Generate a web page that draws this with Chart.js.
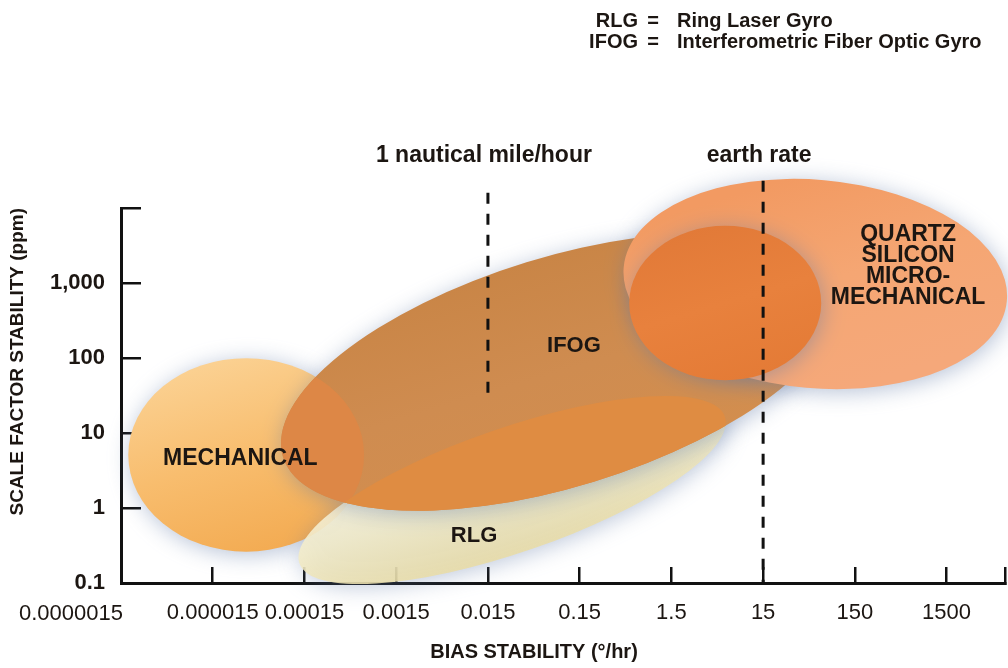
<!DOCTYPE html>
<html>
<head>
<meta charset="utf-8">
<script src="https://cdn.jsdelivr.net/npm/chart.js@4.4.0/dist/chart.umd.min.js"></script>
<style>
body { margin: 0; background: #fff; }
#wrap { width: 1008px; height: 668px; }
</style>
</head>
<body>
<div id="wrap"><canvas id="myChart"></canvas></div>
<script>
// axis ticks
const xTicks = [0.0000015, 0.000015, 0.00015, 0.0015, 0.015, 0.15, 1.5, 15, 150, 1500, 6500];
const xTickLabels = ['', '0.000015', '0.00015', '0.0015', '0.015', '0.15', '1.5', '15', '150', '1500', ''];
const yTicks = [0.1, 1, 10, 100, 1000, 10000];
const yTickLabels = ['0.1', '1', '10', '100', '1,000', ''];

// gyro regions: long axis from (biasFrom, scaleFrom) to (biasTo, scaleTo), half width in decades of scale factor
const regionNames = ['MECHANICAL', 'RLG', 'IFOG', 'QUARTZ OUTER', 'QUARTZ INNER'];
const regionBiasFrom = [0.0000018, 0.000132, 0.0000876, 0.453, 0.52];
const regionScaleFrom = [5.1, 0.183, 4.79, 1619, 541];
const regionBiasTo = [0.00067, 5.74, 96.4, 6810, 64.5];
const regionScaleTo = [5.1, 16.5, 885, 581, 541];
const regionHalfWidth = [1.29, 0.83, 1.53, 1.39, 1.03];

// region labels
const labelLines = [['MECHANICAL'], ['RLG'], ['IFOG'], ['QUARTZ', 'SILICON', 'MICRO-', 'MECHANICAL']];
const labelBias = [0.00003, 0.0106, 0.13, 570];
const labelScale = [4.6, 0.42, 145, 1660];

// reference lines
const refNames = ['1 nautical mile/hour', 'earth rate'];
const refBias = [0.015, 15];
const refTop = [16000, 23000];
const refBottom = [27, 0.1];

const legendAbbr = ['RLG', 'IFOG'];
const legendText = ['Ring Laser Gyro', 'Interferometric Fiber Optic Gyro'];

const FONT = "'Liberation Sans', Arial, sans-serif";
const INK = '#1c1612';

function regionPath(ctx, xs, ys, i) {
    let x1 = xs.getPixelForValue(regionBiasFrom[i]);
    let y1 = ys.getPixelForValue(regionScaleFrom[i]);
    let x2 = xs.getPixelForValue(regionBiasTo[i]);
    let y2 = ys.getPixelForValue(regionScaleTo[i]);
    let a = Math.hypot(x2 - x1, y2 - y1) / 2;
    let b = ys.getPixelForValue(1) - ys.getPixelForValue(Math.pow(10, regionHalfWidth[i]));
    ctx.beginPath();
    ctx.ellipse((x1 + x2) / 2, (y1 + y2) / 2, a, b, Math.atan2(y2 - y1, x2 - x1), 0, Math.PI * 2);
    return {x1: x1, y1: y1, x2: x2, y2: y2, a: a, b: b};
}

function grad(ctx, g, stops) {
    let cx = (g.x1 + g.x2) / 2, cy = (g.y1 + g.y2) / 2;
    let lg = ctx.createLinearGradient(cx - g.b * 0.3, cy - g.b, cx + g.b * 0.3, cy + g.b);
    stops.forEach((c, k) => lg.addColorStop(k / (stops.length - 1), c));
    return lg;
}

const regionFills = [
    ['#fbd192', '#f8bd6e', '#f3ab52'],
    ['#faf6e2', '#f3ecc8', '#e8dba4'],
    ['#c98546', '#cf8c50', '#d38e4e'],
    ['#f29a62', '#f5a673', '#f5a87a'],
    ['#e27a38', '#e8813d', '#e47b36']
];

const regionsPlugin = {
    id: 'regions',
    beforeDatasetsDraw(chart) {
        const ctx = chart.ctx;
        const xs = chart.scales.x, ys = chart.scales.y;
        ctx.save();
        ctx.shadowColor = 'rgba(95,120,165,0.45)';
        ctx.shadowBlur = 22;
        ctx.shadowOffsetX = 2;
        ctx.shadowOffsetY = 3;
        for (let i = 0; i < regionNames.length; i++) {
            let g = regionPath(ctx, xs, ys, i);
            ctx.fillStyle = grad(ctx, g, regionFills[i]);
            ctx.globalAlpha = i === 1 ? 0.88 : 1;
            ctx.fill();
            ctx.globalAlpha = 1;
            if (i === 2) {
                // overlaps inside the IFOG region
                ctx.save();
                ctx.shadowColor = 'rgba(0,0,0,0)';
                regionPath(ctx, xs, ys, 2);
                ctx.clip();
                regionPath(ctx, xs, ys, 0);
                ctx.fillStyle = '#dd8746';
                ctx.fill();
                regionPath(ctx, xs, ys, 1);
                ctx.fillStyle = '#df8c42';
                ctx.fill();
                ctx.restore();
            }
        }
        ctx.restore();
    },
    afterDatasetsDraw(chart) {
        const ctx = chart.ctx;
        const xs = chart.scales.x, ys = chart.scales.y;
        ctx.save();
        ctx.fillStyle = INK;
        ctx.textAlign = 'center';
        ctx.textBaseline = 'middle';
        for (let i = 0; i < labelLines.length; i++) {
            let x = xs.getPixelForValue(labelBias[i]);
            let y = ys.getPixelForValue(labelScale[i]);
            let lines = labelLines[i];
            ctx.font = 'bold ' + (i === 1 || i === 2 ? 22 : 23) + 'px ' + FONT;
            lines.forEach((t, k) => {
                ctx.fillText(t, x, y + (k - (lines.length - 1) / 2) * 21);
            });
        }
        // reference line names
        ctx.font = 'bold 23px ' + FONT;
        ctx.textBaseline = 'alphabetic';
        for (let i = 0; i < refNames.length; i++) {
            ctx.fillText(refNames[i], xs.getPixelForValue(refBias[i]) - 4, 162);
        }
        // corner tick label
        ctx.font = '22px ' + FONT;
        ctx.textAlign = 'right';
        ctx.textBaseline = 'middle';
        ctx.fillText('0.0000015', 123, 614);
        // x axis title
        ctx.font = 'bold 20px ' + FONT;
        ctx.textAlign = 'center';
        ctx.fillText('BIAS STABILITY (\u00b0/hr)', 534, 652);
        // abbreviations
        ctx.textBaseline = 'alphabetic';
        for (let i = 0; i < legendAbbr.length; i++) {
            let y = 27 + i * 21;
            ctx.textAlign = 'right';
            ctx.fillText(legendAbbr[i], 638, y);
            ctx.textAlign = 'center';
            ctx.fillText('=', 653, y);
            ctx.textAlign = 'left';
            ctx.fillText(legendText[i], 677, y);
        }
        ctx.restore();
    }
};

const datasets = refBias.map((b, i) => ({
    label: refNames[i],
    data: [{x: b, y: refTop[i]}, {x: b, y: refBottom[i]}],
    showLine: true,
    pointRadius: 0,
    borderColor: '#111',
    borderWidth: 3,
    borderDash: [11, 10],
    clip: false
}));

let ctx = document.getElementById('myChart').getContext('2d');
let myChart = new Chart(ctx, {
    type: 'scatter',
    data: { datasets: datasets },
    options: {
        responsive: true,
        maintainAspectRatio: false,
        animation: false,
        layout: { padding: { top: 208, right: 3, left: 6, bottom: 0 } },
        plugins: { legend: { display: false }, tooltip: { enabled: false } },
        scales: {
            x: {
                type: 'logarithmic',
                min: xTicks[0],
                max: xTicks[xTicks.length - 1],
                afterBuildTicks: axis => { axis.ticks = xTicks.map(v => ({value: v})); },
                afterFit: axis => { axis.height = 85; axis.paddingLeft = 0; axis.paddingRight = 0; },
                border: { color: '#111', width: 3 },
                grid: { drawOnChartArea: false, drawTicks: true, tickLength: -16, color: '#111', lineWidth: 2.5 },
                ticks: {
                    autoSkip: false, maxRotation: 0, minRotation: 0, padding: 33,
                    color: INK, font: { family: FONT, size: 22 },
                    callback: (v, i) => xTickLabels[i]
                }
            },
            y: {
                type: 'logarithmic',
                min: yTicks[0],
                max: yTicks[yTicks.length - 1],
                afterBuildTicks: axis => { axis.ticks = yTicks.map(v => ({value: v})); },
                afterFit: axis => { axis.width = 115; axis.paddingTop = 0; axis.paddingBottom = 0; },
                border: { color: '#111', width: 3 },
                grid: { drawOnChartArea: false, drawTicks: true, tickLength: -20, color: '#111', lineWidth: 2.5 },
                ticks: {
                    autoSkip: false, padding: 36,
                    color: INK, font: { family: FONT, size: 22, weight: 'bold' },
                    callback: (v, i) => yTickLabels[i]
                },
                title: {
                    display: true, align: 'end', text: 'SCALE FACTOR STABILITY (ppm)',
                    color: INK, font: { family: FONT, size: 19, weight: 'bold' }, padding: 0
                }
            }
        }
    },
    plugins: [regionsPlugin]
});
</script>
</body>
</html>
